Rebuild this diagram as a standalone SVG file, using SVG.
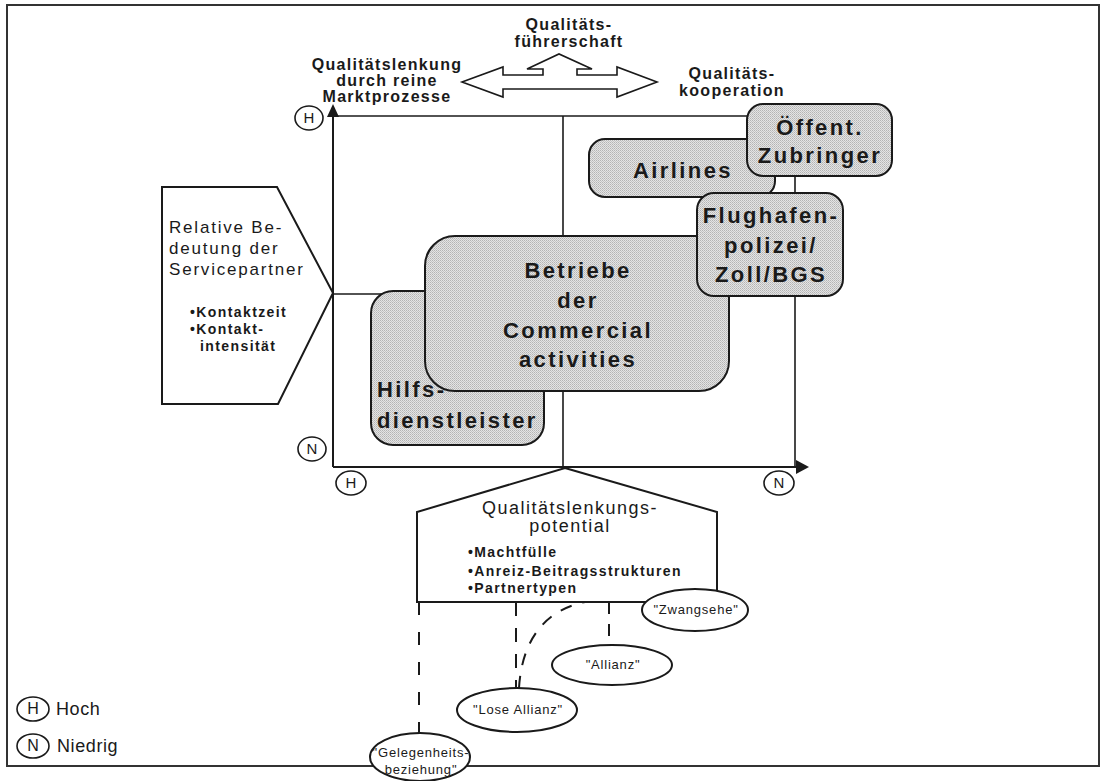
<svg xmlns="http://www.w3.org/2000/svg" width="1101" height="781" viewBox="0 0 1101 781">
<defs>
  <pattern id="stip" x="0" y="0" width="2" height="2" patternUnits="userSpaceOnUse">
    <rect width="2" height="2" fill="#e4e4e4"/>
    <rect width="1" height="1" fill="#b4b4b4"/>
    <rect x="1" y="1" width="1" height="1" fill="#c4c4c4"/>
  </pattern>
</defs>
<style>
.ln{stroke:#1a1a1a;stroke-width:2;fill:none}
.thin{stroke:#1a1a1a;stroke-width:1.6;fill:none}
.box{fill:url(#stip);stroke:#1a1a1a;stroke-width:2}
.wh{fill:#fff;stroke:#1a1a1a;stroke-width:2}
.big{font-family:"Liberation Sans",Arial,sans-serif;font-weight:bold;font-size:22px;letter-spacing:2.4px;fill:#1a1a1a}
.hdr{font-family:"Liberation Sans",Arial,sans-serif;font-weight:bold;font-size:16px;letter-spacing:1.3px;fill:#1a1a1a;text-anchor:middle}
.reg{font-family:"Liberation Sans",Arial,sans-serif;font-size:17px;letter-spacing:1.8px;fill:#1a1a1a}
.bul{font-family:"Liberation Sans",Arial,sans-serif;font-weight:bold;font-size:14px;letter-spacing:1.4px;fill:#1a1a1a}
.ell{font-family:"Liberation Sans",Arial,sans-serif;font-size:13px;letter-spacing:0.8px;fill:#1a1a1a;text-anchor:middle}
.cir{font-family:"Liberation Sans",Arial,sans-serif;font-size:15px;fill:#1a1a1a;text-anchor:middle}
.mid{text-anchor:middle}
.dash{stroke:#1a1a1a;stroke-width:2;fill:none;stroke-dasharray:13 17}
</style>
<rect x="7" y="5" width="1092" height="761" fill="none" stroke="#333" stroke-width="2"/>

<g id="connectors">
  <line class="thin" x1="333" y1="116" x2="795" y2="116"/>
  <line class="thin" x1="563" y1="116" x2="563" y2="467"/>
  <line class="thin" x1="795" y1="116" x2="795" y2="467"/>
  <line class="thin" x1="333" y1="294" x2="795" y2="294"/>
  <line class="ln" x1="333" y1="467" x2="333" y2="114"/>
  <polygon points="333,104 327,117 339,117" fill="#1a1a1a"/>
  <line class="ln" x1="333" y1="467" x2="798" y2="467"/>
  <polygon points="809,467 796,460 796,474" fill="#1a1a1a"/>
  <line class="dash" x1="419" y1="602" x2="419" y2="735"/>
  <line class="dash" x1="516" y1="602" x2="516" y2="688" style="stroke-dasharray:14 12"/>
  <line class="dash" x1="609" y1="602" x2="609" y2="645" style="stroke-dasharray:12 10"/>
  <path class="dash" d="M519,688 C522,640 545,605 598,600" style="stroke-dasharray:12 11"/>
</g>

<g id="header-arrow">
  <polygon class="thin" fill="#fff" points="462,82 503,67 503,75 543,75 543,69 527,69 559,54 592,69 577,69 577,75 617,75 617,67 657,82 617,97 617,89 503,89 503,97"/>
</g>
<g id="label-fuehrerschaft">
  <text class="hdr" x="569" y="30">Qualitäts-</text>
  <text class="hdr" x="569" y="47">führerschaft</text>
</g>
<g id="label-markt">
  <text class="hdr" x="387" y="70">Qualitätslenkung</text>
  <text class="hdr" x="387" y="86">durch reine</text>
  <text class="hdr" x="387" y="102">Marktprozesse</text>
</g>
<g id="label-kooperation">
  <text class="hdr" x="732" y="79">Qualitäts-</text>
  <text class="hdr" x="732" y="96">kooperation</text>
</g>

<g id="node-hilfs">
  <rect class="box" x="371" y="291" width="173" height="154" rx="22"/>
  <text class="big" x="377" y="397">Hilfs-</text>
  <text class="big" x="377" y="428">dienstleister</text>
</g>
<g id="node-betriebe">
  <rect class="box" x="425" y="236" width="304" height="155" rx="30"/>
  <text class="big mid" x="578" y="278">Betriebe</text>
  <text class="big mid" x="578" y="308">der</text>
  <text class="big mid" x="578" y="338">Commercial</text>
  <text class="big mid" x="578" y="367">activities</text>
</g>
<g id="node-airlines">
  <rect class="box" x="589" y="139" width="186" height="58" rx="16"/>
  <text class="big mid" x="683" y="178">Airlines</text>
</g>
<g id="node-oeffent">
  <rect class="box" x="747" y="104" width="145" height="72" rx="16"/>
  <text class="big mid" x="820" y="135">Öffent.</text>
  <text class="big mid" x="820" y="163">Zubringer</text>
</g>
<g id="node-flughafen">
  <rect class="box" x="697" y="193" width="146" height="103" rx="17"/>
  <text class="big mid" x="771" y="223">Flughafen-</text>
  <text class="big mid" x="771" y="253">polizei/</text>
  <text class="big mid" x="771" y="282">Zoll/BGS</text>
</g>

<g id="node-relative">
  <polygon class="wh" points="162,187 277,187 333,293 278,404 162,404"/>
  <text class="reg" x="169" y="233">Relative Be-</text>
  <text class="reg" x="169" y="254">deutung der</text>
  <text class="reg" x="169" y="275">Servicepartner</text>
  <text class="bul" x="190" y="317">•Kontaktzeit</text>
  <text class="bul" x="190" y="334">•Kontakt-</text>
  <text class="bul" x="200" y="351">intensität</text>
</g>

<g id="node-potential">
  <polygon class="wh" points="565,468 717,512 717,602 417,602 417,512"/>
  <text class="reg mid" x="570" y="514" style="font-size:18px;letter-spacing:1.5px">Qualitätslenkungs-</text>
  <text class="reg mid" x="570" y="532" style="font-size:18px;letter-spacing:1.5px">potential</text>
  <text class="bul" x="468" y="557">•Machtfülle</text>
  <text class="bul" x="468" y="576">•Anreiz-Beitragsstrukturen</text>
  <text class="bul" x="468" y="593">•Partnertypen</text>
</g>

<g id="node-zwangsehe">
  <ellipse class="wh" cx="695" cy="610" rx="53" ry="21"/>
  <text class="ell" x="696" y="614">"Zwangsehe"</text>
</g>
<g id="node-allianz">
  <ellipse class="wh" cx="612" cy="665" rx="60" ry="20"/>
  <text class="ell" x="613" y="669">"Allianz"</text>
</g>
<g id="node-lose">
  <ellipse class="wh" cx="517" cy="710" rx="60" ry="22"/>
  <text class="ell" x="518" y="714">"Lose Allianz"</text>
</g>
<g id="node-gelegenheit">
  <ellipse class="wh" cx="420" cy="757" rx="50" ry="24"/>
  <text class="ell" x="421" y="757">"Gelegenheits-</text>
  <text class="ell" x="421" y="774">beziehung"</text>
</g>

<g id="markers">
  <ellipse class="thin" cx="309" cy="118" rx="14" ry="12" fill="#fff"/>
  <text class="cir" x="309" y="123">H</text>
  <ellipse class="thin" cx="312" cy="449" rx="14" ry="12" fill="#fff"/>
  <text class="cir" x="312" y="454">N</text>
  <ellipse class="thin" cx="351" cy="483" rx="15" ry="12" fill="#fff"/>
  <text class="cir" x="351" y="488">H</text>
  <ellipse class="thin" cx="779" cy="483" rx="15" ry="12" fill="#fff"/>
  <text class="cir" x="779" y="488">N</text>
</g>

<g id="legend">
  <ellipse class="thin" cx="33" cy="709" rx="16" ry="12" fill="#fff"/>
  <text class="cir" x="33" y="714" style="font-size:16px">H</text>
  <text class="reg" x="56" y="715" style="font-size:18px;letter-spacing:0.6px">Hoch</text>
  <ellipse class="thin" cx="33" cy="746" rx="16" ry="12" fill="#fff"/>
  <text class="cir" x="33" y="751" style="font-size:16px">N</text>
  <text class="reg" x="57" y="752" style="font-size:18px;letter-spacing:0.6px">Niedrig</text>
</g>
</svg>
